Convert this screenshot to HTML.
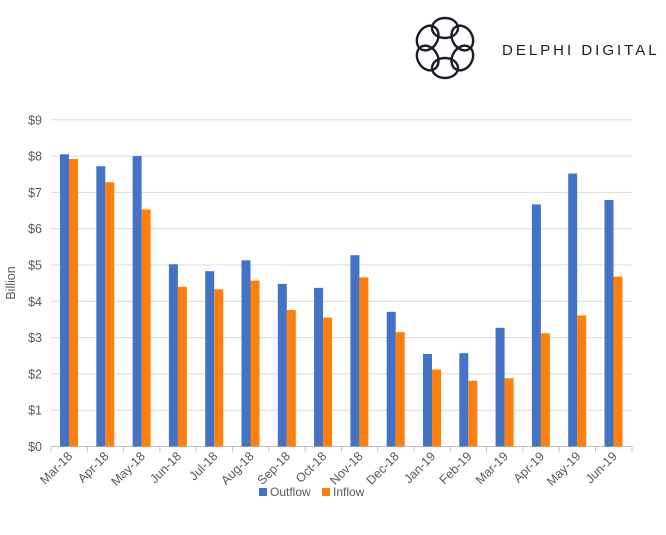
<!DOCTYPE html>
<html><head><style>
body{margin:0;background:#fff;}
svg text{font-family:"Liberation Sans",sans-serif;}
</style></head><body>
<svg width="666" height="530" viewBox="0 0 666 530" xmlns="http://www.w3.org/2000/svg">
<g fill="none" stroke="#1a1d26" stroke-width="2.4">
<g transform="translate(445,48)">
<ellipse cx="0" cy="-20" rx="13" ry="10" transform="rotate(0)"/>
<ellipse cx="0" cy="-20" rx="13" ry="10" transform="rotate(60)"/>
<ellipse cx="0" cy="-20" rx="13" ry="10" transform="rotate(120)"/>
<ellipse cx="0" cy="-20" rx="13" ry="10" transform="rotate(180)"/>
<ellipse cx="0" cy="-20" rx="13" ry="10" transform="rotate(240)"/>
<ellipse cx="0" cy="-20" rx="13" ry="10" transform="rotate(300)"/>
</g>
</g>
<text x="502" y="55" font-size="15" fill="#1a1d26" letter-spacing="3">DELPHI DIGITAL</text>
<g id="grid" stroke="#d9d9d9" stroke-width="1"></g>
<g id="bars"></g>
<g id="labels" font-size="12.5" fill="#595959"></g>
<text transform="translate(15,283) rotate(-90)" text-anchor="middle" font-size="12.5" fill="#595959">Billion</text>
<rect x="259" y="488" width="8" height="8" fill="#4472c4"/>
<text x="270" y="496" font-size="12" fill="#595959">Outflow</text>
<rect x="322" y="488" width="8" height="8" fill="#ff7f0e"/>
<text x="333" y="496" font-size="12" fill="#595959">Inflow</text>
</svg>
<script>
const ns="http://www.w3.org/2000/svg";
const g=document.getElementById('grid'),b=document.getElementById('bars'),l=document.getElementById('labels');
function el(p,t,a,txt){const e=document.createElementNS(ns,t);for(const k in a)e.setAttribute(k,a[k]);if(txt)e.textContent=txt;p.appendChild(e);return e;}
const y0=446.5,s=36.3,x0=51,w=36.3;
for(let i=0;i<=9;i++){const y=y0-i*s;if(i>0)el(g,'line',{x1:x0,x2:632,y1:y,y2:y});el(l,'text',{x:42,y:y+4.5,'text-anchor':'end'},'$'+i);}
el(g,'line',{x1:x0,x2:632,y1:y0,y2:y0,stroke:'#bfbfbf'});
const cats=['Mar-18','Apr-18','May-18','Jun-18','Jul-18','Aug-18','Sep-18','Oct-18','Nov-18','Dec-18','Jan-19','Feb-19','Mar-19','Apr-19','May-19','Jun-19'];
const out=[8.05,7.72,8.0,5.02,4.83,5.13,4.48,4.37,5.27,3.71,2.55,2.57,3.27,6.67,7.52,6.79];
const inf=[7.92,7.28,6.53,4.4,4.33,4.57,3.76,3.55,4.66,3.15,2.12,1.81,1.88,3.12,3.61,4.68];
for(let i=0;i<16;i++){const x=x0+i*w;
el(g,'line',{x1:x,x2:x,y1:y0,y2:y0+5,stroke:'#bfbfbf'});
el(b,'rect',{x:x+9,y:y0-out[i]*s,width:9,height:out[i]*s,fill:'#4472c4'});
el(b,'rect',{x:x+18,y:y0-inf[i]*s,width:9,height:inf[i]*s,fill:'#ff7f0e'});
const cx=x+w/2+4,cy=457;
el(l,'text',{x:cx,y:cy,'text-anchor':'end',transform:`rotate(-45 ${cx} ${cy})`},cats[i]);}
el(g,'line',{x1:632,x2:632,y1:y0,y2:y0+5,stroke:'#bfbfbf'});
</script>
</body></html>
